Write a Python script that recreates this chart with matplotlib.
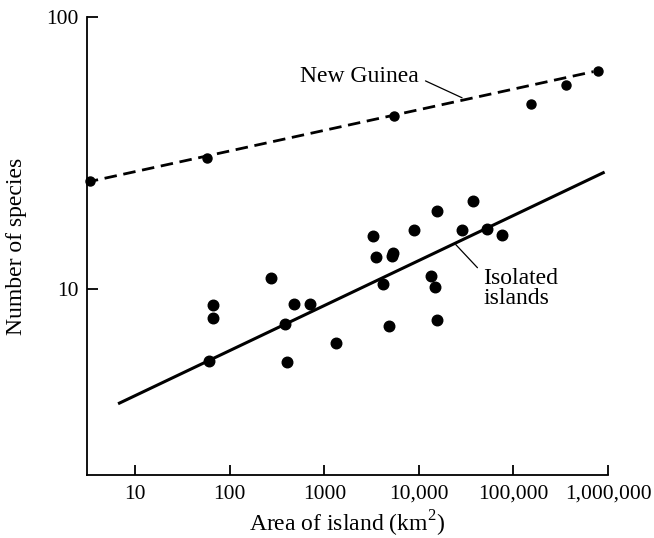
import matplotlib
matplotlib.use('Agg')
import matplotlib.pyplot as plt
from matplotlib.ticker import NullLocator

# New Guinea sample areas (km2) and species counts
ng_area = [3.3, 57, 5400, 152000, 357000, 780000]
ng_species = [24.9, 30.3, 43.4, 47.9, 56.4, 63.6]
ng_fit_area = [3.0, 700000]
ng_fit_species = [24.7, 63.0]

# isolated islands
iso_area = [274, 67, 67, 483, 708, 382, 60, 402, 1343,
            3300, 3530, 5370, 5180, 8890, 15450, 37700, 28800,
            52600, 75200, 4150, 13360, 14830, 4880, 15700]
iso_species = [11.0, 8.76, 7.86, 8.85, 8.85, 7.44, 5.46, 5.39, 6.37,
               15.7, 13.1, 13.6, 13.2, 16.5, 19.4, 21.1, 16.5,
               16.6, 15.8, 10.46, 11.2, 10.2, 7.33, 7.71]
iso_fit_area = [6.8, 890000]
iso_fit_species = [3.82, 26.8]

x_ticks = [10, 100, 1000, 10000, 100000, 1000000]
x_labels = ['10', '100', '1000', '10,000', '100,000', '1,000,000']
y_ticks = [10, 100]
y_labels = ['10', '100']


def main():
    plt.rcParams['font.family'] = ['Liberation Serif', 'DejaVu Serif']
    plt.rcParams['mathtext.fontset'] = 'custom'
    plt.rcParams['mathtext.rm'] = 'Liberation Serif'

    fig = plt.figure(figsize=(6.54, 5.38), dpi=100)
    ax = fig.add_axes([0.1323, 0.1171, 0.7974, 0.8513])

    ax.set_xscale('log')
    ax.set_yscale('log')
    ax.set_xlim(3.05, 1000000)
    ax.set_ylim(2.08, 100)

    ax.plot(ng_fit_area, ng_fit_species, color='black', lw=2.0,
            dashes=(4.5, 2.4), zorder=2)
    ax.plot(ng_area, ng_species, 'o', color='black', ms=6.5,
            clip_on=False, zorder=3)
    ax.plot(iso_fit_area, iso_fit_species, color='black', lw=2.2, zorder=2)
    ax.plot(iso_area, iso_species, 'o', color='black', ms=7.6, zorder=3)

    ax.annotate('New Guinea', xy=(28600, 50.5), xytext=(10000, 60.3),
                ha='right', va='center', fontsize=17,
                arrowprops=dict(arrowstyle='-', lw=0.9, color='black',
                                relpos=(1.0, 0.45), shrinkA=3, shrinkB=0))
    ax.annotate('Isolated\nislands', xy=(24500, 14.6), xytext=(47700, 10.1),
                ha='left', va='center', fontsize=17, linespacing=0.95,
                arrowprops=dict(arrowstyle='-', lw=0.9, color='black',
                                relpos=(0.0, 0.85), shrinkA=3, shrinkB=0))

    ax.spines['top'].set_visible(False)
    ax.spines['right'].set_visible(False)
    for side in ('left', 'bottom'):
        ax.spines[side].set_linewidth(1.3)

    ax.set_xticks(x_ticks)
    ax.set_xticklabels(x_labels)
    ax.set_yticks(y_ticks)
    ax.set_yticklabels(y_labels)
    ax.xaxis.set_minor_locator(NullLocator())
    ax.yaxis.set_minor_locator(NullLocator())
    ax.tick_params(axis='x', direction='in', length=7, width=1.3,
                   labelsize=15.5, pad=7)
    ax.tick_params(axis='y', direction='in', length=8, width=1.3,
                   labelsize=15.5, pad=6)

    xl = ax.set_xlabel('Area of island (km$^2$)', fontsize=17)
    xl.set_verticalalignment('baseline')
    ax.set_ylabel('Number of species', fontsize=17)
    ax.xaxis.set_label_coords(0.5, -0.1245)
    ax.yaxis.set_label_coords(-0.114, 0.5)

    fig.savefig('out.png', dpi=100)


if __name__ == '__main__':
    main()
